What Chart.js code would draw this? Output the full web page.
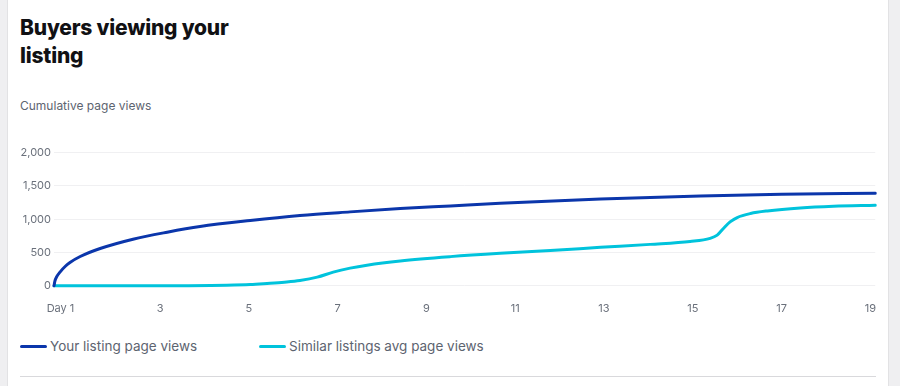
<!DOCTYPE html>
<html>
<head>
<meta charset="utf-8">
<script src="https://cdn.jsdelivr.net/npm/chart.js@4.4.1/dist/chart.umd.min.js"></script>
<style>
  html, body { margin: 0; padding: 0; }
  body { width: 900px; height: 386px; background: #efeff1; position: relative; overflow: hidden; font-family: Inter, "Noto Sans", sans-serif; }
  .card { position: absolute; left: 7px; top: -2px; width: 880px; height: 400px; background: #fff; border-left: 1px solid #e2e2e4; border-right: 1px solid #e2e2e4; }
  .title { position: absolute; left: 20px; top: 14px; width: 250px; font-size: 21px; line-height: 28px; font-weight: 800; color: #111114; letter-spacing: -0.2px; }
  .subtitle { position: absolute; left: 20px; top: 98px; font-size: 12px; color: #5d6470; }
  #wrap { position: absolute; left: 20px; top: 143px; width: 864px; height: 180px; }
  .legend { position: absolute; top: 338px; left: 20px; display: flex; font-size: 13.5px; color: #5d6470; }
  .item { display: flex; align-items: center; margin-right: 62px; }
  .sw { width: 27px; height: 3px; border-radius: 2px; margin-right: 3px; }
  .rule { position: absolute; left: 20px; top: 376px; width: 856px; height: 1px; background: #d9d9dc; }
</style>
</head>
<body>
<div class="card"></div>
<div class="title">Buyers viewing your listing</div>
<div class="subtitle">Cumulative page views</div>
<div id="wrap"><canvas id="c" width="864" height="180"></canvas></div>
<div class="legend" id="legend"></div>
<div class="rule"></div>
<script>
// ---- data ----
const seriesNames = ["Your listing page views", "Similar listings avg page views"];
const seriesColors = ["#0b36ab", "#00c3dc"];
const yourDays  = [0.61, 0.63, 0.67, 0.75, 0.86, 0.97, 1.2, 1.65, 2.39, 3.16, 3.9, 5.03, 6.15, 7.28, 8.41, 9.54, 10.66, 12.92, 15.17, 17.0, 19.11];
const yourViews = [0, 70, 135, 210, 290, 350, 440, 560, 700, 805, 890, 980, 1055, 1110, 1160, 1200, 1240, 1305, 1350, 1375, 1388];
const simDays  = [0.61, 2, 3.5, 4.5, 5.03, 5.41, 5.8, 6.15, 6.54, 6.9, 7.28, 7.66, 8.41, 9.54, 10.66, 11.79, 12.92, 14.04, 14.94, 15.39, 15.55, 15.69, 15.84, 16.0, 16.3, 16.68, 17.42, 18.17, 19.11];
const simViews = [0, 0, 2, 8, 18, 35, 55, 80, 130, 205, 265, 310, 373, 438, 488, 530, 577, 622, 665, 712, 761, 861, 960, 1025, 1085, 1124, 1169, 1194, 1209];
const xTickDays = [1, 3, 5, 7, 9, 11, 13, 15, 17, 19];
const yTickValues = [0, 500, 1000, 1500, 2000];

const toPts = (xs, ys) => xs.map((x, i) => ({ x: x, y: ys[i] }));

const tickFont = { family: "Inter, 'Noto Sans', sans-serif", size: 11 };
const tickColor = "#6a707b";

new Chart(document.getElementById("c"), {
  type: "line",
  data: {
    datasets: [
      { label: seriesNames[0], data: toPts(yourDays, yourViews), borderColor: seriesColors[0], backgroundColor: seriesColors[0] },
      { label: seriesNames[1], data: toPts(simDays, simViews), borderColor: seriesColors[1], backgroundColor: seriesColors[1] }
    ]
  },
  options: {
    responsive: false,
    animation: false,
    layout: { padding: { left: 0, right: 0, top: 0, bottom: 0 } },
    elements: {
      point: { radius: 0, hoverRadius: 0 },
      line: { borderWidth: 3, cubicInterpolationMode: "monotone", borderCapStyle: "round", borderJoinStyle: "round" }
    },
    datasets: { line: { clip: 4 } },
    plugins: { legend: { display: false }, tooltip: { enabled: false } },
    scales: {
      x: {
        type: "linear",
        min: yourDays[0],
        max: yourDays[yourDays.length - 1],
        afterBuildTicks: (s) => { s.ticks = xTickDays.map(v => ({ value: v })); },
        grid: { display: false },
        border: { display: false },
        ticks: {
          autoSkip: false, maxRotation: 0, padding: 8, font: tickFont, color: tickColor,
          callback: (v) => v === xTickDays[0] ? "Day " + v + "       " : String(v)
        }
      },
      y: {
        min: yTickValues[0],
        max: yTickValues[yTickValues.length - 1],
        afterBuildTicks: (s) => { s.ticks = yTickValues.map(v => ({ value: v })); },
        afterFit: (s) => { s.width = 34; },
        grid: { color: "#f0f0f2", drawTicks: false, lineWidth: 1 },
        border: { display: false },
        ticks: { padding: 3, font: tickFont, color: tickColor,
          callback: (v) => v.toLocaleString("en-US") }
      }
    }
  }
});

const lg = document.getElementById("legend");
seriesNames.forEach((n, i) => {
  const it = document.createElement("div"); it.className = "item";
  const sw = document.createElement("span"); sw.className = "sw"; sw.style.background = seriesColors[i];
  const tx = document.createElement("span"); tx.textContent = n;
  it.appendChild(sw); it.appendChild(tx); lg.appendChild(it);
});
</script>
</body>
</html>
